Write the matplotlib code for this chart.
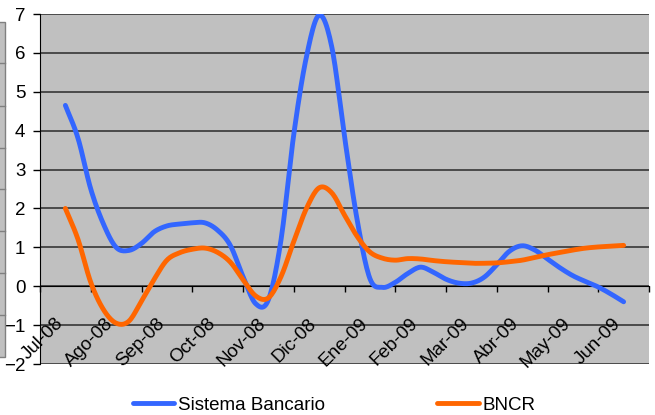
import numpy as np
import matplotlib
matplotlib.use("Agg")
import matplotlib.pyplot as plt
from matplotlib.patches import Rectangle
from matplotlib.lines import Line2D
from matplotlib.transforms import ScaledTranslation

plt.rcParams['font.family'] = ['Liberation Sans', 'DejaVu Sans']

# meses del periodo
meses = ['Jul-08', 'Ago-08', 'Sep-08', 'Oct-08', 'Nov-08', 'Dic-08',
         'Ene-09', 'Feb-09', 'Mar-09', 'Abr-09', 'May-09', 'Jun-09']

# series semanales (%)
sistema_bancario = [4.65, 3.8, 2.5, 1.6, 1.0, 0.92, 1.1, 1.4, 1.55, 1.6, 1.63,
                    1.63, 1.44, 1.05, 0.25, -0.45, -0.35, 1.2, 3.9, 5.9, 6.97,
                    6.15, 3.85, 1.7, 0.2, -0.03, 0.1, 0.33, 0.49, 0.36, 0.18,
                    0.08, 0.08, 0.23, 0.55, 0.9, 1.04, 0.93, 0.7, 0.47, 0.27,
                    0.12, -0.02, -0.2, -0.4]
bncr = [2.0, 1.2, 0.1, -0.6, -0.95, -0.9, -0.38, 0.18, 0.67, 0.86, 0.95, 0.98,
        0.87, 0.62, 0.17, -0.25, -0.3, 0.25, 1.15, 2.0, 2.53, 2.4, 1.83, 1.28,
        0.88, 0.72, 0.67, 0.71, 0.7, 0.66, 0.63, 0.61, 0.59, 0.59, 0.6, 0.63,
        0.67, 0.74, 0.81, 0.87, 0.93, 0.98, 1.01, 1.03, 1.05]


def suavizar(x, y, n=12):
    # curva tipo Catmull-Rom (linea suavizada estilo Excel)
    x = np.asarray(x, float)
    y = np.asarray(y, float)
    px = np.concatenate([[2 * x[0] - x[1]], x, [2 * x[-1] - x[-2]]])
    py = np.concatenate([[2 * y[0] - y[1]], y, [2 * y[-1] - y[-2]]])
    t = np.linspace(0, 1, n, endpoint=False)
    xs, ys = [], []
    for i in range(1, len(px) - 2):
        for p, out in ((px, xs), (py, ys)):
            p0, p1, p2, p3 = p[i - 1], p[i], p[i + 1], p[i + 2]
            out.extend(0.5 * (2 * p1 + (-p0 + p2) * t
                              + (2 * p0 - 5 * p1 + 4 * p2 - p3) * t ** 2
                              + (-p0 + 3 * p1 - 3 * p2 + p3) * t ** 3))
    xs.append(x[-1])
    ys.append(y[-1])
    return np.array(xs), np.array(ys)


fig = plt.figure(figsize=(6.55, 4.15), dpi=100)
ax = fig.add_axes([40 / 655, 1 - 364 / 415, 609 / 655, 350 / 415])
ax.set_facecolor('#c0c0c0')

pos = 0.5 + 0.25 * np.arange(len(sistema_bancario))
xb, yb = suavizar(pos, sistema_bancario)
xo, yo = suavizar(pos, bncr)

ax.set_xlim(0, 12)
ax.set_ylim(-2, 7)
for v in range(-2, 8):
    ax.axhline(v, color='#2a2a2a', lw=1.1, zorder=1)

ax.plot(xb, yb, color='#3366ff', lw=3.5, solid_capstyle='round', zorder=3,
        label='Sistema Bancario')
ax.plot(xo, yo, color='#ff6600', lw=3.5, solid_capstyle='round', zorder=3,
        label='BNCR')

for s in ['top', 'right']:
    ax.spines[s].set_visible(False)
ax.spines['bottom'].set_position(('data', 0))
ax.spines['bottom'].set_zorder(2)
ax.spines['left'].set_color('black')

ax.set_yticks(range(-2, 8))
ax.tick_params(axis='y', direction='out', length=5, width=1, pad=5.5,
               labelsize=13.5)

ax.set_xticks(np.arange(13))
ax.set_xticklabels([])
ax.set_xticks(np.arange(12) + 0.5, minor=True)
ax.set_xticklabels(meses, minor=True)
ax.tick_params(axis='x', which='major', direction='out', length=4.5, width=1)
ax.tick_params(axis='x', which='minor', length=0, pad=25, labelsize=13.5)
desplazar = ScaledTranslation(-5 / 100, 0, fig.dpi_scale_trans)
for lbl in ax.get_xticklabels(minor=True):
    lbl.set_rotation(45)
    lbl.set_ha('right')
    lbl.set_va('center')
    lbl.set_rotation_mode('anchor')
    lbl.set_transform(lbl.get_transform() + desplazar)

fig.legend(loc='center', bbox_to_anchor=(334 / 655, 1 - 405 / 415), ncol=2,
           frameon=False, fontsize=13.5, handlelength=2.2, handletextpad=0.2,
           columnspacing=6.0, borderaxespad=0)

# borde de otro grafico a la izquierda
fig.add_artist(Rectangle((-0.01, 1 - 357 / 415), 5 / 655 + 0.01, 335 / 415,
                         transform=fig.transFigure, fc='#c0c0c0',
                         ec='#808080', lw=1))
for yy in [63, 106, 148, 189, 231, 273, 315]:
    fig.add_artist(Line2D([0, 5 / 655], [1 - yy / 415] * 2,
                          transform=fig.transFigure, color='#808080', lw=1))

fig.savefig('out.png', dpi=100)
